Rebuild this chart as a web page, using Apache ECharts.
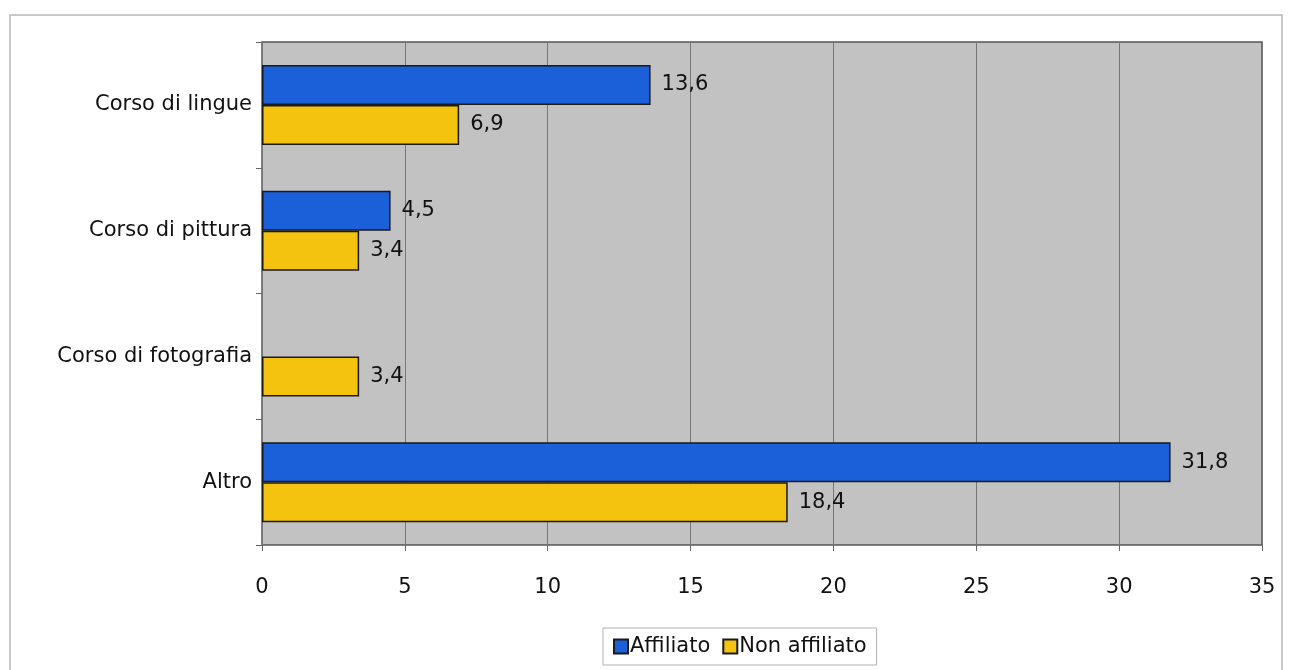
<!DOCTYPE html>
<html>
<head>
<meta charset="utf-8">
<script src="https://cdn.jsdelivr.net/npm/echarts@6/dist/echarts.min.js"></script>
<style>
  html, body { margin: 0; padding: 0; background: #fff; }
  #container { width: 1292px; height: 670px; }
</style>
</head>
<body>
<div id="container"></div>
<script>
var categories = ['Corso di lingue', 'Corso di pittura', 'Corso di fotografia', 'Altro'];
var affiliato = [13.6, 4.5, '-', 31.8];
var nonAffiliato = [6.9, 3.4, 3.4, 18.4];
var xTicks = [0, 5, 10, 15, 20, 25, 30, 35];

function fmt(p) {
    return String(p.value).replace('.', ',');
}

var myChart = echarts.init(document.getElementById('container'));
var option = {
    textStyle: { fontFamily: 'DejaVu Sans, Arial, sans-serif' },
    animation: false,
    graphic: [{
        type: 'rect',
        shape: { x: 10, y: 15, width: 1272, height: 660 },
        style: { fill: 'none', stroke: '#b8b8b8', lineWidth: 1.5 },
        z: -1
    }],
    legend: {
        bottom: 5,
        left: 603,
        itemWidth: 14,
        itemHeight: 14,
        itemGap: 12,
        padding: [8, 10],
        borderColor: '#b0b0b0',
        borderWidth: 1,
        textStyle: { fontSize: 21, color: '#111', padding: [0, 0, 0, -3] },
        data: [
            { name: 'Affiliato', icon: 'rect' },
            { name: 'Non affiliato', icon: 'rect' }
        ]
    },
    grid: {
        left: 262,
        right: 30,
        top: 42,
        bottom: 125,
        show: true,
        backgroundColor: '#c2c2c2',
        borderColor: '#555',
        borderWidth: 1.5
    },
    xAxis: {
        type: 'value',
        min: 0,
        max: 35,
        interval: 5,
        axisLine: { show: false },
        axisTick: { show: true, length: 6, lineStyle: { color: '#666' } },
        axisLabel: {
            margin: 32,
            fontSize: 21,
            color: '#111',
            formatter: function (v) { return xTicks.indexOf(v) >= 0 ? String(v) : ''; }
        },
        splitLine: { show: true, lineStyle: { color: '#777', width: 1 } }
    },
    yAxis: {
        type: 'category',
        inverse: true,
        data: categories,
        axisLine: { show: false },
        axisTick: { show: true, length: 6, lineStyle: { color: '#666' } },
        axisLabel: { fontSize: 21, color: '#111', margin: 10 }
    },
    series: [{
        name: 'Affiliato',
        type: 'bar',
        data: affiliato,
        barWidth: 40,
        barGap: '0%',
        itemStyle: { color: '#1b5fd9', borderColor: '#1a1a1a', borderWidth: 1.5 },
        label: { show: true, position: 'right', fontSize: 21, color: '#111', distance: 11, formatter: fmt }
    }, {
        name: 'Non affiliato',
        type: 'bar',
        data: nonAffiliato,
        barWidth: 40,
        barGap: '0%',
        itemStyle: { color: '#f3c30f', borderColor: '#1a1a1a', borderWidth: 1.5 },
        label: { show: true, position: 'right', fontSize: 21, color: '#111', distance: 11, formatter: fmt }
    }]
};
myChart.setOption(option);
</script>
</body>
</html>
